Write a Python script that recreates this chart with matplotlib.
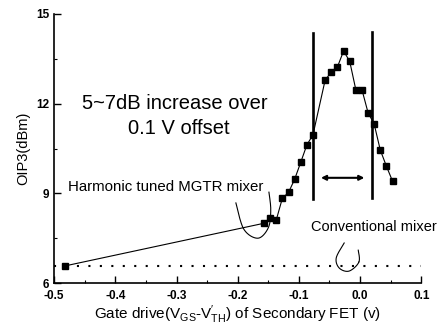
import numpy as np
import matplotlib.pyplot as plt
from matplotlib.ticker import MultipleLocator

plt.rcParams['font.family'] = ['Liberation Sans', 'DejaVu Sans']
plt.rcParams['mathtext.default'] = 'regular'

# harmonic tuned MGTR mixer
harm_x = [-0.483, -0.157, -0.147, -0.137, -0.127, -0.117, -0.107, -0.097, -0.087, -0.077,
          -0.057, -0.047, -0.037, -0.027, -0.017, -0.007, 0.003, 0.013, 0.023, 0.033,
          0.043, 0.053]
harm_y = [6.57, 8.0, 8.19, 8.11, 8.84, 9.03, 9.47, 10.04, 10.62, 10.96,
          12.8, 13.05, 13.23, 13.76, 13.42, 12.47, 12.47, 11.7, 11.32, 10.45,
          9.91, 9.41]

# conventional mixer
conv_x = [-0.5, 0.1]
conv_y = [6.57, 6.57]

# marker lines for the 0.1 V window
win_x = [-0.077, 0.019]
win_lo = [8.82, 8.86]
win_hi = [14.35, 14.4]


def smooth(pts, n=60):
    # catmull-rom through the hand drawn loop points
    p = np.array(pts, dtype=float)
    p = np.vstack([p[0], p, p[-1]])
    out = []
    t = np.linspace(0, 1, n)[:, None]
    for i in range(1, len(p) - 2):
        p0, p1, p2, p3 = p[i - 1], p[i], p[i + 1], p[i + 2]
        out.append(0.5 * ((2 * p1) + (-p0 + p2) * t + (2 * p0 - 5 * p1 + 4 * p2 - p3) * t ** 2
                          + (-p0 + 3 * p1 - 3 * p2 + p3) * t ** 3))
    out = np.vstack(out)
    return out[:, 0], out[:, 1]


fig = plt.figure(figsize=(4.37, 3.33), dpi=100)
ax = fig.add_axes([0.124, 0.150, 0.840, 0.808])

ax.plot(harm_x, harm_y, '-', color='black', lw=0.8, marker='s', ms=4)
ax.plot(conv_x, conv_y, color='black', lw=1.5, linestyle=(0, (1, 4.5)))
for xv, lo, hi in zip(win_x, win_lo, win_hi):
    ax.plot([xv, xv], [lo, hi], color='black', lw=1.9)

ax.annotate('', xy=(-0.064, 9.52), xytext=(0.007, 9.52),
            arrowprops=dict(arrowstyle='<|-|>', color='black', lw=1.5,
                            mutation_scale=7, shrinkA=0, shrinkB=0))

lx, ly = smooth([(-0.203, 8.68), (-0.19, 7.8), (-0.167, 7.5), (-0.15, 7.85),
                 (-0.146, 8.44), (-0.149, 9.04)])
ax.plot(lx, ly, color='black', lw=0.8)
lx, ly = smooth([(-0.026, 7.34), (-0.039, 6.84), (-0.034, 6.5), (-0.018, 6.4),
                 (-0.002, 6.7), (-0.003, 7.1)])
ax.plot(lx, ly, color='black', lw=0.8)

ax.text(-0.303, 12.02, '5~7dB increase over', fontsize=14.5, ha='center', va='center')
ax.text(-0.297, 11.18, '0.1 V offset', fontsize=14.5, ha='center', va='center')
ax.text(-0.477, 9.21, 'Harmonic tuned MGTR mixer', fontsize=10.8, ha='left', va='center')
ax.text(-0.080, 7.87, 'Conventional mixer', fontsize=10.5, ha='left', va='center',
        clip_on=False)

ax.set_xlim(-0.5, 0.1)
ax.set_ylim(6, 15)
ax.set_xticks([-0.5, -0.4, -0.3, -0.2, -0.1, 0.0, 0.1])
ax.set_xticklabels(['-0.5', '-0.4', '-0.3', '-0.2', '-0.1', '0.0', '0.1'])
ax.set_yticks([6, 9, 12, 15])
ax.xaxis.set_minor_locator(MultipleLocator(0.05))
ax.yaxis.set_minor_locator(MultipleLocator(1.5))
ax.tick_params(direction='in', which='major', length=5, width=1, labelsize=8.5)
ax.tick_params(axis='x', which='major', pad=5)
ax.tick_params(direction='in', which='minor', length=2.5, width=0.8)
for lab in ax.get_xticklabels() + ax.get_yticklabels():
    lab.set_fontweight('bold')
ax.spines['top'].set_visible(False)
ax.spines['right'].set_visible(False)
ax.spines['left'].set_linewidth(1.2)
ax.spines['bottom'].set_linewidth(1.2)

ax.set_xlabel("Gate drive(V$_{GS}$-V$_{TH}^{\\prime}$) of Secondary FET (v)", fontsize=11, labelpad=1)
ax.set_ylabel('OIP3(dBm)', fontsize=10.5, labelpad=4)

fig.savefig('out.png', dpi=100)
